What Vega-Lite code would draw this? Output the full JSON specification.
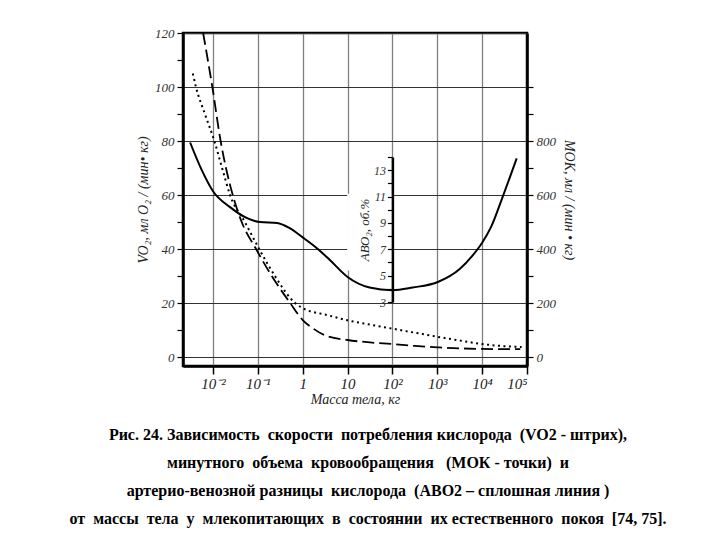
{
  "$schema": "https://vega.github.io/schema/vega-lite/v6.json",
  "width": 344,
  "height": 333,
  "autosize": "none",
  "padding": {"left": 183, "top": 33, "right": 193, "bottom": 174},
  "background": "white",
  "config": {"view": {"stroke": "black", "strokeWidth": 2.5}, "font": "Liberation Serif"},
  "title": {
    "text": [
      "Рис. 24. Зависимость \u00a0скорости \u00a0потребления кислорода \u00a0(VO2 - штрих),",
      "минутного \u00a0объема \u00a0кровообращения \u00a0\u00a0(МОК - точки) \u00a0и",
      "артерио-венозной разницы \u00a0кислорода \u00a0(АВО2 – сплошная линия )",
      "от \u00a0массы \u00a0тела \u00a0у \u00a0млекопитающих \u00a0в \u00a0состоянии \u00a0их естественного \u00a0покоя \u00a0[74, 75]."
    ],
    "orient": "bottom",
    "anchor": "middle",
    "frame": "group",
    "font": "Liberation Serif",
    "fontSize": 16,
    "fontWeight": "bold",
    "color": "black",
    "lineHeight": 28,
    "offset": 21,
    "dx": 13
  },
  "datasets": {
    "box": [{"mass": 9.8, "mass2": 100, "y1": 32, "y2": 60.5}],
    "vo2": [
      {"mass": 0.006026, "vo2": 120},
      {"mass": 0.009661, "vo2": 100},
      {"mass": 0.014791, "vo2": 80},
      {"mass": 0.027542, "vo2": 60},
      {"mass": 0.043652, "vo2": 50},
      {"mass": 0.091201, "vo2": 40},
      {"mass": 0.204174, "vo2": 30},
      {"mass": 0.524807, "vo2": 20},
      {"mass": 1, "vo2": 13.7},
      {"mass": 1.6596, "vo2": 10.7},
      {"mass": 3.3884, "vo2": 7.8},
      {"mass": 10, "vo2": 6.3},
      {"mass": 31.62, "vo2": 5.4},
      {"mass": 100, "vo2": 4.8},
      {"mass": 316.2, "vo2": 4.1},
      {"mass": 1000, "vo2": 3.6},
      {"mass": 3162, "vo2": 3.2},
      {"mass": 10000, "vo2": 3.0},
      {"mass": 70795, "vo2": 2.9}
    ],
    "mok": [
      {"mass": 0.003548, "mok": 1050},
      {"mass": 0.004169, "mok": 1000},
      {"mass": 0.006607, "mok": 900},
      {"mass": 0.010715, "mok": 800},
      {"mass": 0.016596, "mok": 690},
      {"mass": 0.023988, "mok": 600},
      {"mass": 0.051286, "mok": 500},
      {"mass": 0.107152, "mok": 400},
      {"mass": 0.239883, "mok": 300},
      {"mass": 0.676083, "mok": 200},
      {"mass": 1, "mok": 181},
      {"mass": 3.388, "mok": 156},
      {"mass": 10, "mok": 136},
      {"mass": 31.62, "mok": 120},
      {"mass": 100, "mok": 105},
      {"mass": 316.2, "mok": 90},
      {"mass": 1000, "mok": 75},
      {"mass": 3162, "mok": 61},
      {"mass": 10000, "mok": 48},
      {"mass": 31623, "mok": 40},
      {"mass": 75858, "mok": 37}
    ],
    "abo": [
      {"mass": 0.00309, "abo": 15.1},
      {"mass": 0.005623, "abo": 13.0},
      {"mass": 0.01, "abo": 11.4},
      {"mass": 0.023988, "abo": 10.2},
      {"mass": 0.057544, "abo": 9.36},
      {"mass": 0.112202, "abo": 9.06},
      {"mass": 0.269153, "abo": 9.0},
      {"mass": 0.512861, "abo": 8.6},
      {"mass": 1, "abo": 7.9},
      {"mass": 2.041738, "abo": 7.1},
      {"mass": 3.981072, "abo": 6.2},
      {"mass": 10, "abo": 4.9},
      {"mass": 30.903, "abo": 4.1},
      {"mass": 100, "abo": 3.9},
      {"mass": 281.84, "abo": 4.1},
      {"mass": 1000, "abo": 4.5},
      {"mass": 3162.28, "abo": 5.5},
      {"mass": 6025.6, "abo": 6.5},
      {"mass": 10000, "abo": 7.5},
      {"mass": 15848.9, "abo": 8.7},
      {"mass": 28840.3, "abo": 11.0},
      {"mass": 58884.4, "abo": 13.9}
    ]
  },
  "encoding": {
    "x": {
      "field": "mass", "type": "quantitative",
      "scale": {"type": "log", "domain": [0.002144, 100000], "nice": false},
      "axis": {
        "values": [0.01, 0.1, 1, 10, 100, 1000, 10000, 100000],
        "labelExpr": "datum.value < 0.05 ? '10⁻²' : datum.value < 0.5 ? '10⁻¹' : datum.value < 5 ? '1' : datum.value < 50 ? '10' : datum.value < 500 ? '10²' : datum.value < 5000 ? '10³' : datum.value < 50000 ? '10⁴' : '10⁵'",
        "grid": true, "gridColor": "#808080", "gridWidth": 1.3,
        "domainColor": "black", "domainWidth": 2.5,
        "tickColor": "black", "tickSize": 8, "tickWidth": 1.5,
        "labelFont": "Liberation Serif", "labelFontStyle": "italic", "labelFontSize": 15, "labelColor": "#222", "labelPadding": 2,
        "title": "Масса тела, кг", "titleFont": "Liberation Serif", "titleFontStyle": "italic", "titleFontWeight": "normal", "titleFontSize": 14, "titleColor": "#222", "titlePadding": 1
      }
    }
  },
  "layer": [
    {
      "data": {"name": "vo2"},
      "mark": {"type": "line", "color": "black", "strokeWidth": 1.8, "strokeDash": [12, 5], "interpolate": "monotone"},
      "encoding": {
        "y": {
          "field": "vo2", "type": "quantitative",
          "scale": {"domain": [-3.33, 120], "nice": false, "zero": false},
          "axis": {
            "orient": "left",
            "values": [0, 10, 20, 30, 40, 50, 60, 70, 80, 90, 100, 110, 120],
            "labelExpr": "datum.value % 20 == 0 ? datum.label : ''",
            "grid": true, "gridColor": "#333", "gridWidth": 1,
            "gridOpacity": {"condition": {"test": "datum.value % 20 == 0", "value": 1}, "value": 0},
            "domainColor": "black", "domainWidth": 2.5,
            "tickColor": "black", "tickSize": 6, "tickWidth": 1.2,
            "labelFont": "Liberation Serif", "labelFontStyle": "italic", "labelFontSize": 13, "labelColor": "#333", "labelPadding": 3,
            "title": "VO₂, мл O₂ / (мин• кг)", "titleFont": "Liberation Serif", "titleFontStyle": "italic", "titleFontWeight": "normal", "titleFontSize": 14, "titleColor": "#222", "titlePadding": 4
          }
        }
      }
    },
    {
      "data": {"name": "box"},
      "mark": {"type": "rect", "fill": "white", "strokeWidth": 0},
      "encoding": {
        "x2": {"field": "mass2"},
        "y": {"field": "y1", "type": "quantitative", "scale": {"domain": [-3.33, 120], "nice": false, "zero": false}, "axis": null},
        "y2": {"field": "y2"}
      }
    },
    {
      "data": {"name": "mok"},
      "mark": {"type": "line", "color": "black", "strokeWidth": 2, "strokeDash": [2, 3.5], "interpolate": "monotone"},
      "encoding": {
        "y": {
          "field": "mok", "type": "quantitative",
          "scale": {"domain": [-33.3, 1200], "nice": false, "zero": false},
          "axis": {
            "orient": "right",
            "values": [0, 100, 200, 300, 400, 500, 600, 700, 800, 900, 1000],
            "labelExpr": "datum.value % 200 == 0 && datum.value <= 800 ? datum.label : ''",
            "grid": false,
            "domainColor": "black", "domainWidth": 2.5,
            "tickColor": "black", "tickSize": 6, "tickWidth": 1.2,
            "labelFont": "Liberation Serif", "labelFontStyle": "italic", "labelFontSize": 13, "labelColor": "#333", "labelPadding": 3,
            "title": "МОК, мл / (мин • кг)", "titleFont": "Liberation Serif", "titleFontStyle": "italic", "titleFontWeight": "normal", "titleFontSize": 14, "titleColor": "#222", "titlePadding": 6
          }
        }
      }
    },
    {
      "data": {"name": "abo"},
      "mark": {"type": "line", "color": "black", "strokeWidth": 2, "interpolate": "monotone"},
      "encoding": {
        "y": {
          "field": "abo", "type": "quantitative",
          "scale": {"domain": [3, 14], "range": [269, 124], "nice": false, "zero": false},
          "axis": {
            "orient": "left", "offset": -209.4, "zindex": 1,
            "values": [3, 4, 5, 6, 7, 8, 9, 10, 11, 12, 13, 14],
            "labelExpr": "datum.value % 2 == 1 && datum.value < 14 ? datum.label : ''",
            "grid": false,
            "domainColor": "black", "domainWidth": 2.5,
            "tickColor": "black", "tickSize": 5, "tickWidth": 1.2,
            "labelFont": "Liberation Serif", "labelFontStyle": "italic", "labelFontSize": 12, "labelColor": "#333", "labelPadding": 2,
            "title": "АВО₂, об.%", "titleFont": "Liberation Serif", "titleFontStyle": "italic", "titleFontWeight": "normal", "titleFontSize": 13, "titleColor": "#222", "titlePadding": 2
          }
        }
      }
    }
  ],
  "resolve": {"scale": {"y": "independent"}, "axis": {"y": "independent"}}
}
